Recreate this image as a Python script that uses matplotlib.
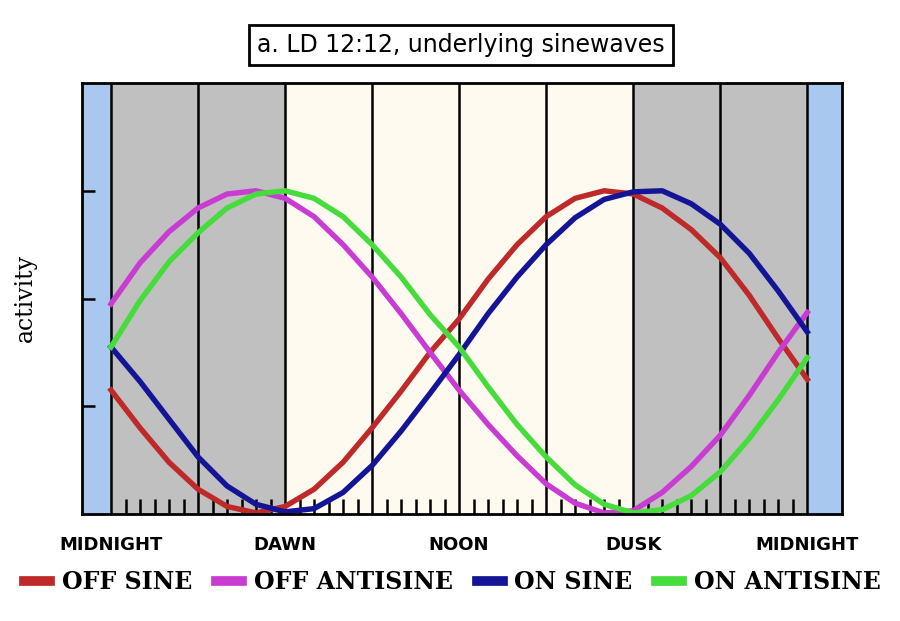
import matplotlib
matplotlib.use("Agg")
import matplotlib.pyplot as plt

# hours of the day, one value per hour
hours = list(range(25))

off_sine = [1.15, 0.8, 0.48, 0.23, 0.07, 0.01, 0.07, 0.23, 0.48, 0.8, 1.14, 1.5, 1.81,
            2.18, 2.5, 2.76, 2.93, 3.0, 2.97, 2.84, 2.64, 2.38, 2.03, 1.63, 1.25]
off_antisine = [1.95, 2.33, 2.62, 2.84, 2.97, 3.0, 2.93, 2.76, 2.5, 2.2, 1.86, 1.5, 1.15,
                0.83, 0.54, 0.28, 0.1, 0.01, 0.03, 0.2, 0.44, 0.73, 1.1, 1.5, 1.87]
on_sine = [1.55, 1.23, 0.88, 0.53, 0.26, 0.09, 0.02, 0.05, 0.2, 0.45, 0.77, 1.12, 1.48,
           1.86, 2.2, 2.5, 2.75, 2.92, 2.99, 3.0, 2.88, 2.69, 2.42, 2.07, 1.69]
on_antisine = [1.55, 1.98, 2.34, 2.61, 2.84, 2.97, 3.0, 2.93, 2.76, 2.5, 2.2, 1.85, 1.55,
               1.18, 0.83, 0.53, 0.27, 0.09, 0.01, 0.04, 0.17, 0.39, 0.7, 1.06, 1.45]

series_names = ['OFF SINE', 'OFF ANTISINE', 'ON SINE', 'ON ANTISINE']
series_colors = ['#be2a2a', '#c83cd2', '#141496', '#46dc3c']

tick_hours = [0, 6, 12, 18, 24]
tick_names = ['MIDNIGHT', 'DAWN', 'NOON', 'DUSK', 'MIDNIGHT']

fig = plt.figure(figsize=(9, 6.21), dpi=100)
ax = fig.add_axes([0.0911, 0.1723, 0.8445, 0.694])

# background: night gray, day cream, blue outside the 24h
ax.axvspan(-1, 0, color='#a8c8f0', lw=0)
ax.axvspan(0, 6, color='#c0c0c0', lw=0)
ax.axvspan(6, 18, color='#fffaf0', lw=0)
ax.axvspan(18, 24, color='#c0c0c0', lw=0)
ax.axvspan(24, 25.2, color='#a8c8f0', lw=0)
for h in range(0, 25, 3):
    ax.axvline(h, color='black', lw=1.8, zorder=1)

data = [off_sine, off_antisine, on_sine, on_antisine]
lines = []
for vals, name, col in zip(data, series_names, series_colors):
    ln, = ax.plot(hours, vals, color=col, lw=3.9, label=name, zorder=3)
    lines.append(ln)

ax.set_xlim(-1, 25.2)
ax.set_ylim(0, 4)

ax.set_yticks([1, 2, 3])
ax.set_yticklabels([])
ax.tick_params(axis='y', direction='in', length=9, width=1.8, color='black')

ax.set_xticks(tick_hours)
ax.set_xticklabels(tick_names, fontsize=13, fontweight='bold', family='DejaVu Sans')
ax.tick_params(axis='x', which='major', length=0, pad=16)
minor = [h / 2 for h in range(1, 48) if h % 6 != 0]
ax.set_xticks(minor, minor=True)
ax.tick_params(axis='x', which='minor', direction='in', length=11, width=1.8, color='black')

for s in ax.spines.values():
    s.set_linewidth(2)
    s.set_zorder(5)

fig.text(0.028, 0.52, 'activity', rotation=90, ha='center', va='center',
         fontsize=17, family='DejaVu Serif')

fig.text(0.512, 0.9275, 'a. LD 12:12, underlying sinewaves', ha='center', va='center',
         fontsize=17, family='DejaVu Sans',
         bbox=dict(boxstyle='square,pad=0.35', facecolor='white', edgecolor='black', lw=2))

leg = fig.legend(handles=lines, loc='center', bbox_to_anchor=(0.503, 0.063), ncol=4,
                 frameon=False, handlelength=1.1, handletextpad=0.5, columnspacing=1.0,
                 prop={'family': 'DejaVu Serif', 'weight': 'bold', 'size': 17})
for h in leg.legend_handles:
    h.set_linewidth(7)

plt.savefig('out.png')
plt.close()
